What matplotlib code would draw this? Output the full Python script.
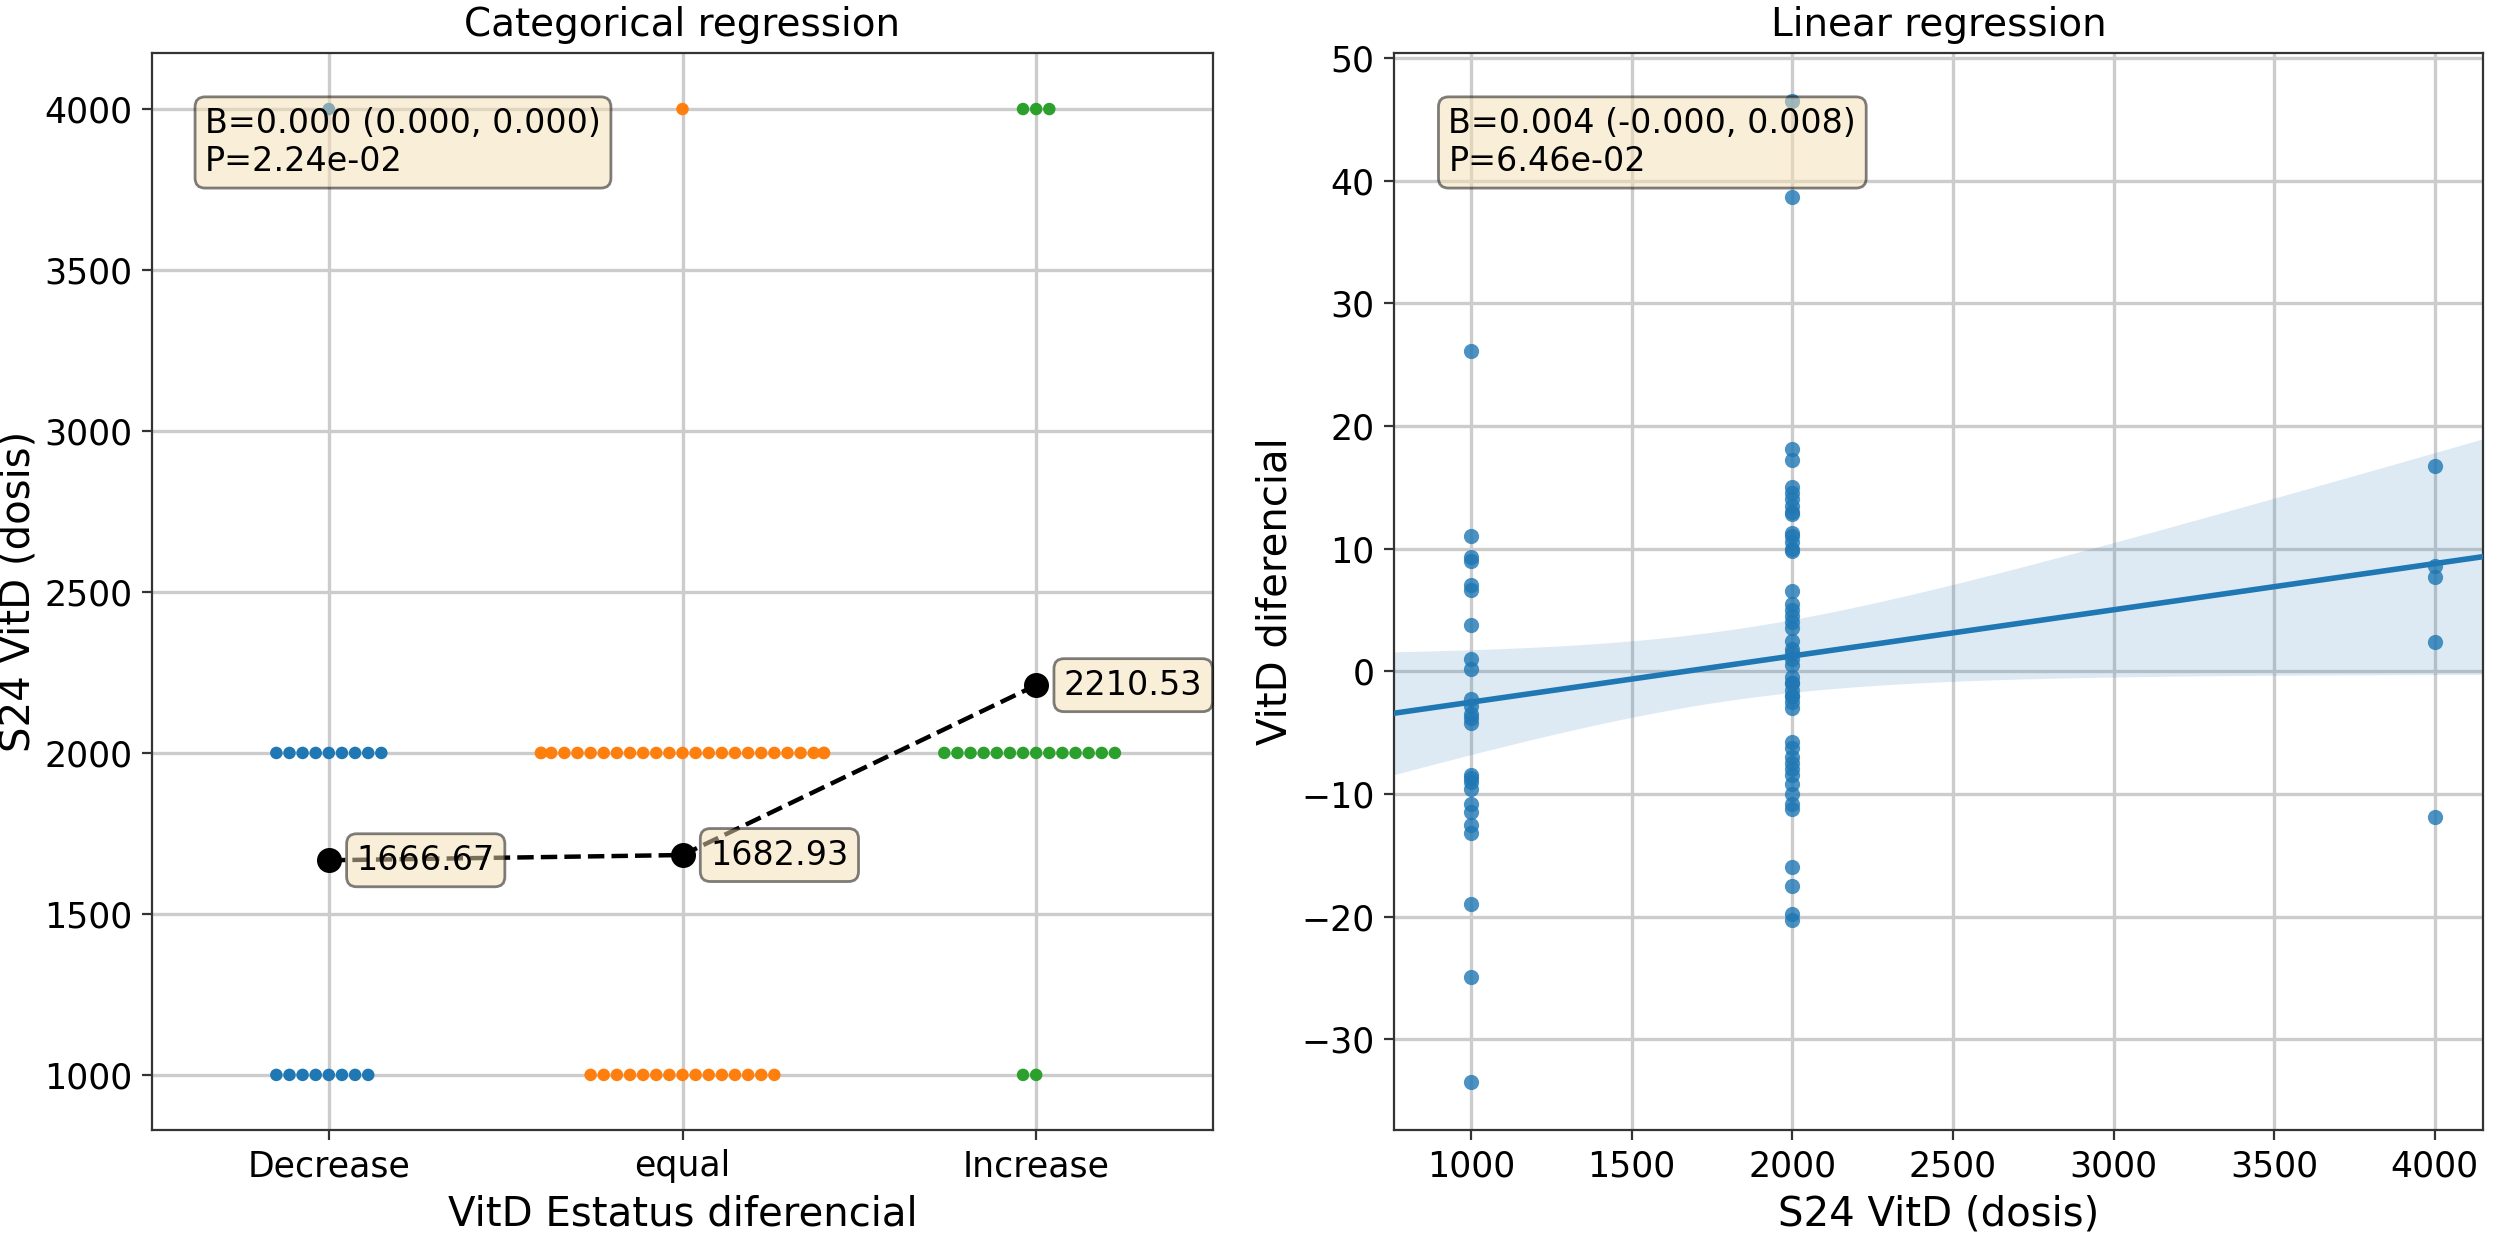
import numpy as np
import pandas as pd
import matplotlib
matplotlib.use("Agg")
import matplotlib.pyplot as plt
import seaborn as sns

# categorical panel: how many participants got each dose inside each status group
status = ["Decrease", "equal", "Increase"]
doses = [1000, 2000, 4000]
n_1000 = [8, 15, 2]
n_2000 = [9, 25, 14]
n_4000 = [1, 1, 3]
group_colors = ["#1f77b4", "#ff7f0e", "#2ca02c"]

# linear panel: VitD change per dose
diff_1000 = [26.1, 11.0, 9.3, 9.0, 7.0, 6.6, 3.8, 1.0, 0.2, -3.8, -2.3, -2.8, -3.5,
             -4.2, -8.5, -8.7, -9.6, -10.8, -11.5, -12.5, -13.2, -19.0, -24.9, -33.5, -9.0]
diff_2000 = [46.5, 38.7, 18.1, 17.2, 15.0, 14.5, 14.0, 13.5, 13.0, 12.8, 11.3, 11.0,
             10.5, 10.0, 9.8, 6.5, 5.5, 4.5, 3.5, 2.5, 1.8, 1.0, 0.5, 1.5, -0.5, -1.0,
             -1.5, -2.0, -2.5, -3.0, -1.0, -2.0, -5.8, -6.3, -7.0, -7.5, -8.0, -8.5,
             -9.2, -10.0, -10.8, -11.2, -16.0, -17.5, -19.8, -20.3, 4.0, 5.0]
diff_4000 = [16.7, 8.6, 7.7, 2.4, -11.9]

cat_stats = "B=0.000 (0.000, 0.000)\nP=2.24e-02"
lin_stats = "B=0.004 (-0.000, 0.008)\nP=6.46e-02"

# long table for the swarm
rows = []
for i, s in enumerate(status):
    for d, counts in zip(doses, [n_1000, n_2000, n_4000]):
        rows += [(s, d)] * counts[i]
cat_df = pd.DataFrame(rows, columns=["status", "dose"])
means = cat_df.groupby("status")["dose"].mean().reindex(status)

box = dict(boxstyle="round", facecolor="wheat", alpha=0.5)

fig = plt.figure(figsize=(12.5, 6.18), dpi=200)
ax1 = fig.add_axes([0.0608, 0.0858, 0.4244, 0.8713])
ax2 = fig.add_axes([0.5576, 0.0858, 0.4356, 0.8713])

# ---- Categorical regression
sns.swarmplot(data=cat_df, x="status", y="dose", order=status, hue="status",
              hue_order=status, palette=group_colors, size=4.5, legend=False,
              ax=ax1, zorder=3)
ax1.plot(range(len(status)), means.values, "k--o", markersize=8, lw=1.6, zorder=5)
for i, m in enumerate(means.values):
    ax1.annotate(f"{m:.2f}", (i, m), xytext=(10, 0), textcoords="offset points",
                 va="center", fontsize=12, bbox=box, zorder=6)
ax1.text(0.05, 0.95, cat_stats, transform=ax1.transAxes, va="top", fontsize=12,
         bbox=box, zorder=7)
ax1.set_xlim(-0.5, 2.5)
ax1.set_ylim(829, 4174)
ax1.set_title("Categorical regression", fontsize=14)
ax1.set_xlabel("VitD Estatus diferencial", fontsize=14.5)
ax1.set_ylabel("S24 VitD (dosis)", fontsize=14.5, labelpad=2)

# ---- Linear regression
x = np.array([1000] * len(diff_1000) + [2000] * len(diff_2000) + [4000] * len(diff_4000), float)
y = np.array(diff_1000 + diff_2000 + diff_4000)
slope, intercept = np.polyfit(x, y, 1)
resid = y - (slope * x + intercept)
s_err = np.sqrt(np.sum(resid ** 2) / (len(x) - 2))
sxx = np.sum((x - x.mean()) ** 2)
xlim = (760, 4150)
xs = np.linspace(xlim[0], xlim[1], 200)
fit = slope * xs + intercept
ci = 1.992 * s_err * np.sqrt(1 / len(x) + (xs - x.mean()) ** 2 / sxx)

ax2.scatter(x, y, s=30, color="#1f77b4", alpha=0.8, zorder=3, linewidths=0)
ax2.plot(xs, fit, color="#1f77b4", lw=2, zorder=4)
ax2.fill_between(xs, fit - ci, fit + ci, color="#1f77b4", alpha=0.15, lw=0, zorder=2)
ax2.text(0.05, 0.95, lin_stats, transform=ax2.transAxes, va="top", fontsize=12,
         bbox=box, zorder=7)
ax2.set_xlim(*xlim)
ax2.set_ylim(-37.4, 50.4)
ax2.set_title("Linear regression", fontsize=14)
ax2.set_xlabel("S24 VitD (dosis)", fontsize=14.5)
ax2.set_ylabel("VitD diferencial", fontsize=14.5, labelpad=2)

for ax in (ax1, ax2):
    ax.grid(True, color="#cccccc", lw=1.2, zorder=0)
    ax.set_axisbelow(True)
    ax.tick_params(labelsize=12.5, color="#333333")
    for sp in ax.spines.values():
        sp.set_color("#333333")

fig.savefig("out.png", dpi=200)
